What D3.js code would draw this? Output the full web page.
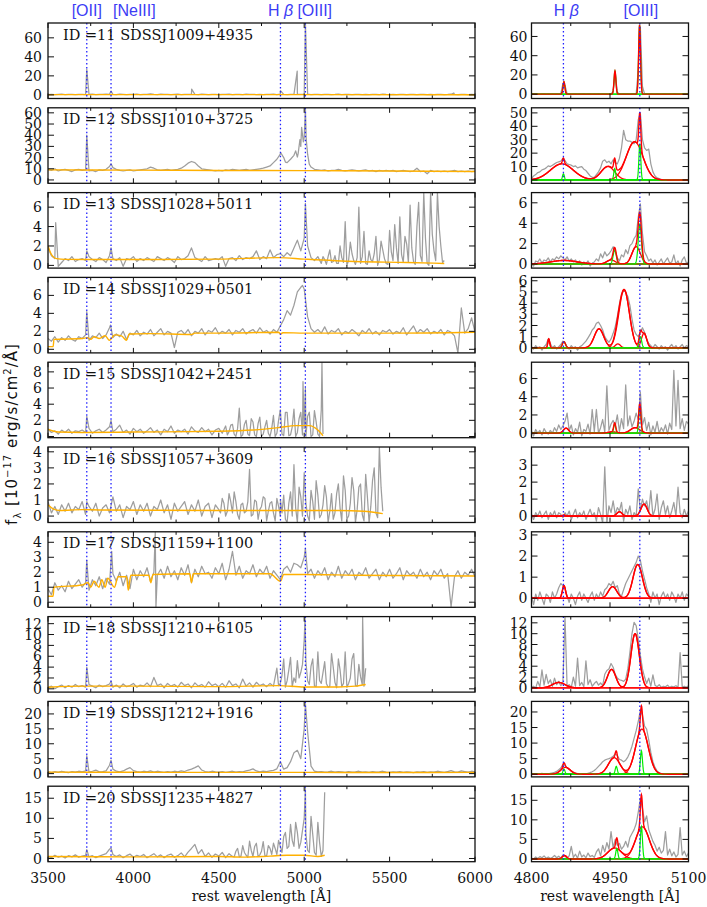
<!DOCTYPE html>
<html lang="en">
<head>
  <meta charset="UTF-8" />
  <title>Spectra ID 11-20</title>
  <style>
    body { margin: 0; background: #fff; }
    svg { display: block; }
    .tlab { font-family: "DejaVu Serif", serif; font-size: 14px; fill: #111; }
    .idlab { font-family: "DejaVu Serif", serif; font-size: 14.5px; fill: #111; }
    .linelab { font-family: "Liberation Sans", Arial, sans-serif; font-size: 16px; fill: #3c3cf5; }
    .ylab { font-family: "DejaVu Sans", sans-serif; font-size: 15px; fill: #111; letter-spacing: 1px; }
  </style>
</head>
<body>
  <svg width="707" height="907"></svg>
  <script src="https://cdnjs.cloudflare.com/ajax/libs/d3/7.8.5/d3.min.js"></script>
  <script>
    // objects, one per row
    const ids = [11, 12, 13, 14, 15, 16, 17, 18, 19, 20];
    const names = ["SDSSJ1009+4935", "SDSSJ1010+3725", "SDSSJ1028+5011", "SDSSJ1029+0501", "SDSSJ1042+2451",
                   "SDSSJ1057+3609", "SDSSJ1159+1100", "SDSSJ1210+6105", "SDSSJ1212+1916", "SDSSJ1235+4827"];

    // y ranges and tick values, full spectrum (left) and zoom (right)
    const leftDomains = [[-3.8, 75.6], [-3, 64.5], [-0.28, 7.5], [-0.4, 8.0], [-0.15, 9.2],
                         [-0.4, 4.3], [-0.34, 4.7], [-0.6, 13.3], [-1.1, 24.2], [-0.8, 18]];
    const leftTicks = [[0, 20, 40, 60], [0, 10, 20, 30, 40, 50, 60], [0, 2, 4, 6], [0, 2, 4, 6], [0, 2, 4, 6, 8],
                       [0, 1, 2, 3, 4], [0, 1, 2, 3, 4], [0, 2, 4, 6, 8, 10, 12], [0, 5, 10, 15, 20], [0, 5, 10, 15]];
    const rightDomains = [[-4.5, 74], [-2.5, 53.8], [-0.4, 7], [-0.45, 6.3], [-0.5, 7.8],
                          [-0.38, 4.07], [-0.43, 3.15], [-0.78, 13.15], [-0.87, 23.4], [-0.7, 18.6]];
    const rightTicks = [[0, 20, 40, 60], [0, 10, 20, 30, 40, 50], [0, 2, 4, 6], [0, 1, 2, 3, 4, 5, 6], [0, 2, 4, 6],
                        [0, 1, 2, 3], [0, 1, 2, 3], [0, 2, 4, 6, 8, 10, 12], [0, 5, 10, 15, 20], [0, 5, 10, 15]];

    const leftXTicks = [3500, 4000, 4500, 5000, 5500, 6000];
    const leftXMinor = [3750, 4250, 4750, 5250, 5750];
    const rightXTicks = [4800, 4950, 5100];
    const rightXMinor = [4875, 5025];

    // emission line markers
    const lineWaves = [3727, 3869, 4861, 5007];
    const zoomLineWaves = [4861, 5007];

    // full spectra: flux every 20 A from 3500 A
    const gridStart = 3500, gridStep = 20;
    const spec11 = [
      .4,.6,.3,.5,.7,.4,.5,.6,.3,.5, .6,.4,.5,.7,.4,.6,.5,.8,.6,.5, .4,.7,.5,.3,.6,.5,.8,.4,.6,.5,
      1.2,.5,.4,.7,.5,.6,.3,.5,.7,.4, .6,.5,.9,.6,.4,.7,.5,.3,.6,.5, .4,.6,.5,.7,.3,.5,.6,.4,.7,.5,
      .6,.4,.5,.3,.6,.5,.7,.4,.8,.5, .4,.6,.5,.7,.6,.5,.8,.4,.6,.5, .3,.5,.6,.4,.5,.7,.3,.5,.6,.4,
      .5,.6,.4,.5,.3,.6,.5,.4,.7,.5, .4,.6,.3,.5,.5,.4,.6,.5,.3,.5, .6,.4,.5,.3,.5,.6,.4,.5,.7,.5,
      .4,.6,.5,.3,.5,.4];
    const spec12 = [
      9.5,8.5,10,8,9,9.5,8.5,7.5,9,9.5, 8.5,9,8,8.5,7.5,9,8.5,9.5,12,11, 9.5,8.5,8,8.5,9,8,8.5,9,9.5,10,
      11.5,10.5,9,8.5,9,9.5,8.5,9,9.5,10.5, 12.5,15,16.5,15.5,12.5,10,9.5,9,8.5,8, 8.5,8,9,8.5,9.5,9,8.5,9,9.5,8.5,
      9,9.5,10,10.5,11.5,12.5,15.5,18.5,23,20, 15.5,18.5,22,20.5,30,38,23,11.5,9.5,9, 8.5,9,8,8.5,8.5,9.5,8.5,8,8.5,9,
      8.5,8,8.5,9,8,8.5,7.5,8.5,8,8.5, 8,8.5,7.5,8,8.5,8,7.5,8,10.5,7.5, 8,5.5,8.5,7.5,8,7.5,8,7.5,8,8.5,
      7.5,8,7.5,8,7.5,8];
    const spec13 = [
      1.8,1.0,0.7,-0.1,0.3,0.7,0.5,0.9,0.4,0.6, 0.7,0.5,0.9,0.6,0.4,0.8,0.6,0.3,1.0,0.7, 0.5,0.8,-0.1,0.7,0.6,0.9,0.4,0.7,0.5,0.8,
      0.6,0.4,0.9,0.7,0.5,0.8,0.6,0.3,0.9,0.6, 0.7,1.0,1.8,0.8,0.6,0.4,0.9,0.5,0.6,0.7, 0.6,0.9,-0.1,0.7,0.8,0.5,1.0,0.6,0.8,0.7,
      0.9,1.5,0.6,0.9,0.7,1.6,0.8,1.1,1.2,0.9, 1.3,1.0,1.8,2.6,1.5,2.8,2.0,0.8,0.5,0.9, 0.2,0.6,0.9,0.3,1.0,0.2,0.8,4.5,0.5,1.2,
      0.1,6.0,0.9,0.2,1.5,0.4,3.0,0.6,1.6,0.2, 3.6,0.5,1.8,5.0,0.3,2.2,6.2,0.4,4.0,1.0, 7.5,0.2,7.5,1.5,7.5,2.0,0.5];
    const spec14 = [
      1.2,0.9,1.4,0.8,1.3,1.0,1.5,1.1,0.9,1.4, 1.2,1.6,1.0,1.5,1.3,1.8,1.2,1.6,2.4,1.3, 1.7,1.4,2.0,1.1,1.8,1.6,2.1,1.5,1.9,1.7,
      2.2,1.5,1.9,2.3,1.6,2.0,1.8,0.2,1.9,2.1, 1.7,2.2,1.5,2.0,1.8,2.3,1.6,2.1,1.9,2.4, 1.7,2.0,1.8,2.2,1.6,2.1,1.9,2.3,1.7,2.0,
      2.2,1.8,2.4,1.9,2.1,1.7,2.2,1.9,2.6,3.3, 4.3,3.8,4.9,6.4,6.9,6.7,3.6,2.3,1.9,2.2, 1.8,2.5,1.7,2.1,1.9,2.3,1.6,2.0,1.8,2.2,
      1.9,1.5,2.1,1.8,2.3,1.7,2.0,1.6,2.1,1.9, 2.2,1.7,2.0,1.8,2.4,1.6,2.1,2.6,1.8,2.2, 1.9,2.3,1.7,2.0,1.8,2.2,1.6,2.1,1.9,1.5,
      -0.4,4.6,1.8,2.3,3.5,1.9];
    const spec15 = [
      0.9,0.5,0.7,0.3,0.8,0.5,0.9,0.4,0.7,0.6, 0.8,0.5,1.0,0.4,0.7,0.9,0.5,0.8,1.2,0.6, 0.9,1.4,0.5,0.8,0.3,1.0,0.6,0.9,0.4,0.7,
      1.1,0.5,0.8,0.2,0.9,0.6,1.3,0.4,0.8,0.6, 0.9,0.3,1.2,0.7,0.5,1.1,0.6,0.9,0.2,0.8, 1.0,0.4,1.3,0.6,1.5,0.0,3.5,0.2,2.0,0.1,
      1.8,0.0,2.4,0.3,2.0,0.0,2.6,0.4,3.3,0.1, 3.0,0.2,3.4,0.5,3.0,1.0,2.5,0.0,3.2,0.3, 3.3];
    const spec16 = [
      0.9,0.2,0.6,0.1,0.7,0.3,0.8,0.2,0.6,0.4, 0.9,0.1,0.6,0.3,0.8,0.0,0.5,0.7,0.2,1.2, 0.3,0.7,-0.1,0.6,0.4,0.9,0.1,0.7,0.3,0.8,
      0.0,0.6,0.4,1.0,0.2,0.7,-0.2,0.8,0.3,0.6, 0.9,0.1,0.7,0.3,1.0,0.0,0.6,0.8,-0.1,0.7, 0.4,1.1,0.0,1.4,0.2,0.9,-0.2,0.8,0.3,2.9,
      0.1,0.9,0.4,1.2,-0.3,0.8,0.2,1.1,0.0,1.3, -0.4,1.5,3.2,-0.4,1.2,2.7,0.0,1.6,-0.2,1.3, 0.1,1.9,-0.4,1.4,0.2,2.0,-0.3,1.6,0.0,2.4,
      -0.4,1.8,0.1,2.6,-0.4,2.2,0.2,4.3,0.3];
    const spec17 = [
      0.9,0.5,1.3,0.8,1.1,0.7,1.4,0.9,1.2,1.5, 1.0,1.3,0.8,1.5,1.1,1.7,0.9,1.6,1.2,1.9, 1.4,2.0,1.1,1.8,0.9,2.2,1.5,2.1,1.7,2.3,
      1.4,2.0,1.8,2.2,1.6,2.4,1.7,2.1,1.5,2.3, 1.8,2.5,1.3,2.2,1.7,2.4,1.9,2.0,1.6,2.3, 1.9,2.6,1.5,2.2,3.4,1.8,2.4,1.6,2.1,1.9,
      2.5,1.7,2.2,1.9,2.4,1.6,2.1,1.8,1.5,2.2, 2.4,2.0,2.6,2.5,2.3,3.0,1.9,2.2,1.6,2.1, 1.8,2.3,1.5,2.0,1.7,2.4,1.6,2.1,1.8,2.2,
      1.5,2.0,1.8,2.3,1.6,1.9,2.2,1.5,2.0,1.7, 2.2,1.6,1.9,2.3,1.5,2.1,1.8,2.0,1.6,2.2, 1.7,2.0,1.5,2.1,1.8,2.2,1.6,1.9,-0.3,1.7,
      2.1,1.6,2.0,1.8,2.2,1.7];
    const spec18 = [
      0.2,0.5,0.0,0.4,0.7,0.2,0.6,0.3,0.8,0.4, 0.6,0.3,0.8,0.5,0.2,0.7,0.4,0.6,0.9,0.3, 0.7,0.2,0.9,0.4,0.6,1.0,0.3,0.7,0.5,1.1,
      0.4,2.1,0.6,0.9,0.2,1.0,0.5,0.8,0.3,1.2, 0.6,0.9,0.2,1.1,0.5,0.8,0.3,1.3,0.6,0.9, 0.4,1.0,0.3,1.5,0.6,0.9,0.2,1.8,0.5,1.1,
      0.3,1.2,0.6,0.9,0.4,1.0,0.5,3.8,1.0,5.5, 1.5,5.8,2.0,5.2,3.0,9.0,1.5,4.2,0.5,6.8, 1.0,5.0,0.3,6.5,1.2,5.5,0.4,6.8,1.0,5.5,
      0.6,4.5,0.8];
    const spec19 = [
      0.6,0.3,0.7,0.4,0.8,0.5,0.3,0.7,0.5,0.8, 0.6,0.9,0.5,0.8,1.2,0.6,0.7,0.9,2.8,1.5, 0.8,0.6,0.9,1.5,2.0,1.0,0.7,0.5,0.8,0.6,
      0.9,0.5,0.8,0.6,0.4,0.7,0.5,0.8,0.6,0.9, 0.7,1.2,1.5,2.0,2.6,1.2,0.7,0.5,0.8,0.6, 0.5,0.7,0.4,0.6,0.8,0.5,0.7,0.6,0.9,1.2,
      1.6,0.9,0.6,0.8,0.7,0.9,1.1,1.6,4.0,1.5, 2.0,4.0,7.0,7.8,5.0,15.0,14.0,2.5,0.8,0.6, 0.7,0.5,0.6,0.8,0.5,0.7,0.6,0.4,0.7,0.5,
      0.6,0.8,0.5,0.6,0.4,0.7,0.5,0.6,0.8,0.5, 0.4,0.6,0.5,0.7,0.4,0.6,0.5,0.3,0.6,0.5, 0.7,0.4,0.6,0.5,0.8,0.6,0.4,0.7,1.0,0.6,
      0.5,0.9,0.7,0.5,0.8,0.6];
    const spec20 = [
      0.5,0.2,0.8,0.3,0.6,0.1,0.7,0.4,0.9,0.3, 0.6,0.8,0.4,0.7,0.2,0.6,0.9,1.2,2.3,1.0, 0.5,0.9,0.2,0.7,1.1,0.3,0.8,0.5,1.0,0.2,
      0.7,1.2,0.4,0.9,0.2,0.8,1.1,0.3,0.7,1.4, 0.4,1.6,2.5,3.5,1.2,2.2,0.5,1.4,0.3,1.1, 0.6,1.5,0.2,1.2,0.5,1.8,0.4,3.2,0.8,4.3,
      0.5,3.8,0.9,4.2,0.6,2.5,3.8,1.0,3.0,5.5, 2.5,8.5,3.0,6.5,4.0,10.0,2.0,10.5,1.5,9.0, 0.5,16.5];

    // extra samples halfway between grid points in the noisy red ends: [first wavelength, fluxes every 20 A]
    const mid13 = [5110, [0.9,0.1,1.6,0.4,0.2,2.0,0.3,0.0,2.4,0.5, 0.8,0.2,3.5,0.1,0.6,1.2,0.0,2.5,0.7,0.1,
                          1.4,4.2,0.2,1.1,3.0,0.3,1.8,0.1,6.5,0.4, 2.8,0.0,3.2,0.5,4.0,0.3]];
    const mid15 = [4550, [0.2,1.4,0.3,1.0,0.0,1.5,0.3,2.2,0.2,1.6, 0.0,1.2,0.4,1.0,0.0,2.0,0.3,3.0,0.1,1.2,
                          0.0,2.2,0.2,0.0,3.0,0.2,1.8,0.0]];
    const mid16 = [4510, [0.2,0.8,0.3,0.9,1.5,0.1,0.7,0.2,0.9,0.0, 1.0,-0.2,0.6,1.1,0.3,0.9,-0.3,0.6,0.2,-0.2,
                          0.8,0.0,0.5,1.8,0.0,0.8,-0.3,0.9,2.2,-0.1, 0.7,1.2,0.3,-0.2,1.4,0.5,2.5,-0.2,0.8,1.6,
                          0.4,2.0,-0.3,1.2,0.6,3.0,-0.1,1.8]];
    const mid18 = [4850, [0.6,2.5,0.3,3.5,0.4,1.2,2.0,4.5,5.0,0.8, 5.5,0.4,1.5,3.0,1.0,0.5,4.0,0.2,3.5,1.0,
                          0.3,2.0,6.5,0.5,2.2,0.5]];
    const mid20 = [4590, [0.4,2.5,0.6,1.5,0.3,2.0,3.0,0.5,1.8,0.7, 3.2,1.0,2.5,4.5,1.5,6.5,3.0,4.5,9.0,2.5,
                          7.0,6.0,1.5,6.0,0.8,4.0]];

    // narrow features between grid points [wavelength, flux]
    const lines11 = [[3727, 27], [3869, 4], [4341, 6], [4861, 4.5], [4959, 25], [5007, 76], [5876, 2]];
    const lines12 = [[3727, 40], [3869, 14.5], [4862, 24.5], [4890, 16], [4950, 26], [4965, 24], [4975, 36],
                     [4985, 47], [4995, 34], [5007, 64], [5012, 36], [5030, 14]];
    const lines13 = [[3545, 4.4], [3727, 1.5], [3869, 1.8], [4861, 1.2], [5007, 6.4]];
    const lines14 = [[3727, 4.2], [3866, 2.7], [4990, 7.1]];
    const lines15 = [[3727, 2.5], [3869, 2.0], [4993, 6.8], [5007, 6.0], [5104, 9.2], [5110, 0.3]];
    const lines16 = [[3727, 0.9], [4861, 1.0]];
    const lines17 = [[3727, 2.8], [3873, 3.4], [4128, 4.7], [4132, -0.34], [5007, 3.6]];
    const lines18 = [[3727, 4.0], [3869, 1.4], [5005, 13.3], [5342, 13.3], [5360, 3.8]];
    const lines19 = [[3727, 6.0], [3869, 4.5], [4970, 6.5], [5007, 23.5]];
    const lines20 = [[3727, 2.2], [3869, 2.6], [5007, 17.5], [5110, 2.0]];

    // continuum model [wavelength, flux]
    const cont11 = [[3500, 0.3], [4500, 0.3], [6000, 0.2]];
    const cont12 = [[3500, 9], [4000, 8.8], [4500, 8.5], [5000, 8.3], [5500, 8], [6000, 7.6]];
    const cont13 = [[3500, 2], [3515, 1.3], [3530, 0.9], [3550, 0.7], [3600, 0.62], [4000, 0.6], [4500, 0.65],
                    [4850, 0.8], [5000, 0.65], [5300, 0.4], [5600, 0.3], [5820, 0.2]];
    const cont14 = [[3500, 0.3], [3530, 0.3], [3535, 1.1], [3700, 1.2], [3730, 1.3], [3750, 1.1], [3770, 1.4],
                    [3800, 1.2], [3835, 1.5], [3860, 1.0], [3890, 1.6], [3930, 1.5], [3960, 1.0], [3975, 1.7],
                    [4100, 1.75], [4340, 1.65], [4360, 1.8], [4500, 1.8], [4850, 1.9], [4861, 1.7], [4875, 1.85],
                    [5000, 1.8], [5500, 1.8], [6000, 1.9]];
    const cont15 = [[3500, 0.9], [3560, 0.55], [3700, 0.5], [4000, 0.55], [4500, 0.65], [4700, 0.8], [4850, 1.1],
                    [4950, 1.35], [5030, 1.35], [5080, 0.8], [5110, 0.1]];
    const cont16 = [[3500, 0.7], [3530, 0.45], [3570, 0.35], [3700, 0.4], [3800, 0.38], [4500, 0.35], [5200, 0.35],
                    [5350, 0.3], [5460, 0.15]];
    const cont17 = [[3500, 0.4], [3530, 0.4], [3535, 1.0], [3700, 1.15], [3735, 1.3], [3750, 1.0], [3770, 1.4],
                    [3798, 1.0], [3815, 1.5], [3835, 1.0], [3850, 1.6], [3889, 1.0], [3910, 1.7], [3960, 1.7],
                    [3970, 0.8], [3985, 1.8], [4090, 1.8], [4102, 1.3], [4115, 1.85], [4330, 1.9], [4340, 1.3],
                    [4350, 1.9], [4800, 1.9], [4861, 1.4], [4880, 1.85], [5000, 1.85], [5300, 1.8], [6000, 1.75]];
    const cont18 = [[3500, 0.3], [3700, 0.5], [4000, 0.5], [4500, 0.4], [4850, 0.6], [5000, 0.35], [5200, 0.35],
                    [5300, 0.5], [5360, 0.8]];
    const cont19 = [[3500, 0.5], [4000, 0.45], [4500, 0.4], [5000, 0.4], [5500, 0.35], [6000, 0.4]];
    const cont20 = [[3500, 0.5], [3800, 0.45], [4000, 0.4], [4500, 0.5], [4650, 0.35], [4800, 0.6], [4900, 0.8],
                    [5000, 0.8], [5080, 0.5], [5120, 0.8]];

    // continuum-subtracted zoom: flux every 4 A from 4800 A
    const zoomStart = 4800, zoomStep = 4;
    const zoom11 = [
      0.3,-0.2,0.4,0.1,-0.3,0.2,0.5,-0.1,0.3,0, 0.2,-0.3,0.4,0.1,0.5,11,9,0.5,0.3,-0.2, 0.1,0.4,-0.2,0.3,0,0.5,-0.1,0.2,0.4,-0.3,
      0.2,0.1,0.5,-0.2,0.3,0.1,0.4,-0.1,0.2,3, 22,2,0.3,-0.2,0.4,0.1,0.3,-0.1,0.2,0.5, 0.5,25,70,8,0.5,0.2,-0.1,0.4,0.1,-0.2,
      0.3,0.1,-0.2,0.4,0.2,0,0.3,-0.1,0.5,0.2, 0.1,-0.2,0.3,0.1,0.4,0.2];
    const zoom12 = [
      1,3,4,5.5,6,7.5,8,9,10.5,10, 11,12,13,13.5,14,16,14.5,12,11.5,11, 10,10.5,9,9.5,10,8,7,5,3,2,
      2,4,6,9,14,15,13,14,12,15, 13,12,16,24,37,30,29,29,28,27, 30,45,50,30,24,22,23,12,6,3,
      1.5,1,0.5,0.2,0,-0.3,0.2,0,-0.2,0.3, 0.1,-0.1,0.2,0,0.3,0.1];
    const zoom13 = [
      0.1,-0.2,0.3,0.2,0.5,0.1,0.4,0.3,0.6,0.2, 0.5,0.4,0.7,0.5,0.8,0.6,0.4,0.7,0.3,0.5, 0.2,0.4,0.1,0.3,-0.1,0.2,0.0,0.3,-0.2,0.1,
      0.2,0.5,0.3,1.0,0.6,1.2,0.8,1.0,1.3,1.7, 1.3,0.6,0.3,0.9,0.7,1.4,1.0,1.8,2.0,2.5, 2.8,4.6,5.9,3.0,1.2,0.8,0.3,0.5,0.1,0.4,
      -0.1,0.2,0.5,0.0,0.3,0.6,0.1,0.2,0.9,0.0, 0.3,-0.2,0.4,0.7,0.1,0.2];
    const zoom14 = [
      0.1,-0.1,0.2,0.0,0.1,-0.2,0.1,0.3,0.8,0.4, 0.0,0.2,-0.1,0.1,0.3,0.6,0.4,0.1,-0.1,0.2, 0.0,0.1,-0.2,0.1,0.2,0.4,0.6,0.9,1.2,1.6,
      1.8,2.2,2.3,2.0,1.6,1.0,0.7,0.5,0.8,1.3, 1.9,2.8,3.9,4.8,5.1,5.0,4.6,3.8,2.6,1.6, 1.2,1.0,1.4,1.8,1.4,0.8,0.4,0.2,0.0,0.3,
      0.1,-0.1,0.2,0.0,0.1,-0.2,0.1,0.3,0.0,0.2, -0.1,0.1,0.3,0.0,0.2,0.1];
    const zoom15 = [
      0.2,-0.3,0.4,0.0,0.3,-0.2,0.5,0.1,-0.1,0.3, 0.0,0.6,0.2,0.9,0.4,0.8,1.3,2.2,0.3,0.9, -0.2,0.5,0.1,1.2,-0.3,0.4,0.2,1.0,-0.1,2.6,
      0.2,2.6,0.0,0.6,1.5,0.1,5.2,0.3,1.0,1.4, 0.8,2.0,0.2,1.6,0.5,5.3,0.8,1.9,0.7,1.3, 2.2,1.5,4.5,0.9,1.7,0.3,1.2,-0.2,0.8,0.1,
      1.3,0.0,0.6,0.2,0.9,-0.1,1.1,0.4,6.9,0.8, 5.8,0.5,1.6,0.3,1.3,1.0];
    const zoom16 = [
      0.1,-0.2,0.2,0.0,0.3,-0.1,0.1,0.3,-0.2,0.2, 0.0,0.3,-0.1,0.2,0.1,-0.1,0.2,0.0,0.3,-0.2, 0.1,0.4,-0.1,0.2,0.0,0.3,-0.2,0.1,0.4,0.0,
      0.2,-0.3,0.5,0.1,-0.4,2.9,-0.4,0.6,0.2,0.9, 0.1,0.5,0.3,0.8,-0.3,0.4,0.1,0.6,-0.2,0.2, 0.0,1.6,0.3,1.0,0.6,0.9,0.2,1.5,0.0,0.4,
      1.3,-0.2,0.5,0.9,0.1,0.6,-0.1,0.3,0.8,0.0, 1.7,0.2,-0.1,0.4,0.0,0.3];
    const zoom17 = [
      0.1,-0.3,0.2,-0.1,0.3,0.0,-0.3,0.2,0.1,-0.2, 0.3,0.0,0.2,0.5,0.7,0.6,0.5,0.1,-0.2,0.2, 0.0,-0.3,0.1,0.3,-0.1,0.2,0.0,-0.2,0.1,0.3,
      -0.1,0.2,0.0,0.3,0.1,0.4,0.5,0.7,0.6,0.8, 0.5,0.6,0.2,0.1,0.4,0.7,0.9,1.1,1.3,1.5, 1.7,2.0,1.8,1.3,0.9,0.5,0.2,-0.2,0.3,0.0,
      0.2,-0.3,0.1,0.3,0.0,0.2,-0.1,0.3,0.1,-0.2, 0.2,0.0,0.3,-0.1,0.2,0.1];
    const zoom18 = [
      0.1,0.3,0.0,1.2,0.2,3.3,0.5,2.5,0.8,1.5, 0.3,1.8,0.6,1.2,0.4,0.9,13.1,0.2,0.6,0.1, 2.0,0.3,5.5,0.4,1.0,0.2,5.0,0.6,1.5,0.3,
      0.8,1.2,0.5,0.9,0.4,2.5,3.2,3.5,4.5,3.8, 2.5,1.8,1.5,1.4,1.2,1.6,3.5,6.5,10.0,12.1, 11.5,9.0,6.0,3.5,2.0,0.8,1.8,0.3,2.4,0.5,
      0.2,0.6,0.1,0.3,0.2,0.5,0.1,0.3,0.2,0.4, 0.1,6.5,0.2,0.3,0.1,0.4];
    const zoom19 = [
      0.1,0.0,0.2,-0.1,0.1,0.3,0.0,0.2,0.1,0.3, 0.4,0.6,0.9,1.4,2.0,3.2,2.9,2.0,1.5,1.0, 0.7,0.4,0.2,0.1,0.0,0.2,0.1,0.3,0.5,0.8,
      1.2,1.8,2.5,3.2,4.0,4.5,4.8,5.0,5.3,5.8, 6.5,6.0,4.8,4.5,4.0,4.5,5.5,7.0,9.0,11.5, 14.0,17.0,20.5,19.0,15.5,14.5,11.0,7.0,4.0,2.2,
      1.0,0.5,0.2,0.1,0.0,0.1,-0.1,0.1,0.0,0.1, 0.0,0.1,-0.1,0.0,0.1,0.0];
    const zoom20 = [
      0.2,0.0,0.5,0.1,0.6,0.3,0.8,0.2,0.5,0.1, 0.4,0.9,0.3,0.7,0.2,1.0,0.6,0.3,0.8,3.2, 0.4,1.2,0.2,2.0,0.5,1.0,0.3,1.5,0.6,0.9,
      0.4,1.8,2.6,0.8,3.5,1.8,4.2,2.5,7.0,2.8, 5.0,3.5,4.0,2.5,3.2,4.5,3.0,5.5,6.5,7.5, 9.0,12.0,15.5,13.0,9.5,11.0,7.5,6.0,4.5,3.5,
      2.0,3.0,1.5,2.2,7.0,1.0,2.5,0.8,1.8,0.5, 1.2,8.0,1.0,2.0,0.6,1.5];

    // fitted gaussian components: [centre A, peak, sigma A, kind] (b = broad red, n = narrow green)
    const fit11 = [[4862, 13, 1.8, "n"], [4959.5, 24, 1.8, "n"], [5006.5, 72, 1.8, "n"]];
    const fit12 = [[4858, 12, 22, "b"], [4861, 4.5, 1.8, "n"], [4946, 10, 13, "b"], [4959, 8.5, 1.8, "n"],
                   [4997, 28.5, 16, "b"], [5007, 27, 1.8, "n"]];
    const fit13 = [[4862, 0.35, 25, "b"], [4952, 0.4, 8, "b"], [4959, 1.35, 3, "n"], [5000, 1.7, 8, "b"], [5007, 3.9, 3, "n"]];
    const fit14 = [[4833, 0.8, 1.8, "b"], [4862, 0.55, 3, "n"], [4929, 1.7, 9, "b"], [4965, 0.35, 5, "b"],
                   [4977, 5.2, 10, "b"], [5015, 1.3, 5, "b"], [5008, 1.0, 2.5, "n"]];
    const fit15 = [[4866, 0.55, 5, "b"], [4955, 0.15, 8, "b"], [4959, 1.0, 2, "n"], [4998, 0.6, 9, "b"], [5007, 2.9, 2, "n"]];
    const fit16 = [[4862, 0.05, 3, "b"], [4968, 0.25, 5, "b"], [5015, 0.7, 6, "b"]];
    const fit17 = [[4862, 0.6, 3, "b"], [4955, 0.55, 8, "b"], [5003, 1.6, 9, "b"]];
    const fit18 = [[4852, 1.0, 12, "b"], [4953, 3.4, 8, "b"], [4998, 10, 8, "b"]];
    const fit19 = [[4865, 2.2, 9, "b"], [4862, 1.6, 2, "n"], [4958, 5.3, 11, "b"], [4962, 2.5, 2, "n"],
                   [5011, 14.5, 12, "b"], [5010, 7.5, 2, "n"]];
    const fit20 = [[4863, 0.9, 4, "b"], [4959, 2.8, 13, "b"], [4963, 2.7, 2, "n"], [5012, 8.2, 13, "b"], [5010, 8.3, 2, "n"]];

    const spectra = [spec11, spec12, spec13, spec14, spec15, spec16, spec17, spec18, spec19, spec20];
    const mids = [null, null, mid13, null, mid15, mid16, null, mid18, null, mid20];
    const lineSets = [lines11, lines12, lines13, lines14, lines15, lines16, lines17, lines18, lines19, lines20];
    const conts = [cont11, cont12, cont13, cont14, cont15, cont16, cont17, cont18, cont19, cont20];
    const zooms = [zoom11, zoom12, zoom13, zoom14, zoom15, zoom16, zoom17, zoom18, zoom19, zoom20];
    const fits = [fit11, fit12, fit13, fit14, fit15, fit16, fit17, fit18, fit19, fit20];

    const svg = d3.select("svg");

    // layout
    const rowTop = i => 23 + i * 84.8;
    const panelH = 75.5;
    const xL = d3.scaleLinear().domain([3500, 6000]).range([48, 475]);
    const xR = d3.scaleLinear().domain([4800, 5100]).range([531.5, 688.5]);

    const gray = "#9e9e9e", orange = "#ffb000", red = "#ff0000", green = "#00ee00", blue = "#2020ff";
    const defs = svg.append("defs");

    function gauss(c, w) {
      const t = (w - c[0]) / c[2];
      return c[1] * Math.exp(-0.5 * t * t);
    }
    const fitGrid = d3.range(4800, 5100.01, 0.5);

    function drawFrame(g, x, y, xMajor, xMinor, yTicks, labelGap, showX) {
      const [x0, x1] = x.range();
      const [y1, y0] = y.range();
      const ticks = g.append("g").attr("stroke", "#111").attr("stroke-width", 1);
      // x ticks top and bottom
      xMajor.concat(xMinor).forEach(v => {
        const len = xMajor.includes(v) ? 5 : 3;
        ticks.append("line").attr("x1", x(v)).attr("x2", x(v)).attr("y1", y1).attr("y2", y1 - len);
        ticks.append("line").attr("x1", x(v)).attr("x2", x(v)).attr("y1", y0).attr("y2", y0 + len);
      });
      // y ticks left and right
      ticks.selectAll(".yt").data(yTicks).join("line")
        .attr("x1", x0).attr("x2", x0 + 6).attr("y1", d => y(d)).attr("y2", d => y(d));
      ticks.selectAll(".yt2").data(yTicks).join("line")
        .attr("x1", x1).attr("x2", x1 - 6).attr("y1", d => y(d)).attr("y2", d => y(d));

      g.append("rect")
        .attr("x", x0).attr("y", y0).attr("width", x1 - x0).attr("height", y1 - y0)
        .attr("fill", "none").attr("stroke", "#111").attr("stroke-width", 1.3);

      g.selectAll(".ylab").data(yTicks).join("text")
        .attr("class", "tlab")
        .attr("x", x0 - labelGap).attr("y", d => y(d))
        .attr("dy", "0.36em").attr("text-anchor", "end")
        .text(d => d);

      if (showX) {
        g.selectAll(".xlab").data(xMajor).join("text")
          .attr("class", "tlab")
          .attr("x", d => x(d)).attr("y", y1 + 21)
          .attr("text-anchor", "middle")
          .text(d => d);
        g.append("text").attr("class", "tlab")
          .attr("x", (x0 + x1) / 2).attr("y", y1 + 39)
          .attr("text-anchor", "middle")
          .text("rest wavelength [Å]");
      }
    }

    function markerLines(g, x, y, waves) {
      const [y1, y0] = y.range();
      g.selectAll(".mk").data(waves).join("line")
        .attr("x1", d => x(d)).attr("x2", d => x(d))
        .attr("y1", y0).attr("y2", y1)
        .attr("stroke", blue).attr("stroke-width", 1.3)
        .attr("stroke-dasharray", "1.5,2.5");
    }

    ids.forEach((id, i) => {
      const y0 = rowTop(i), y1 = y0 + panelH;
      const last = i === ids.length - 1;

      // ---- full spectrum panel
      const yL = d3.scaleLinear().domain(leftDomains[i]).range([y1, y0]);
      defs.append("clipPath").attr("id", "cl" + i).append("rect")
        .attr("x", 48).attr("y", y0).attr("width", 475 - 48).attr("height", panelH);
      const gl = svg.append("g");
      const pl = gl.append("g").attr("clip-path", `url(#cl${i})`);

      let pts = spectra[i].map((v, k) => [gridStart + k * gridStep, v]).concat(lineSets[i]);
      if (mids[i]) pts = pts.concat(mids[i][1].map((v, k) => [mids[i][0] + k * gridStep, v]));
      pts.sort((a, b) => a[0] - b[0]);
      const lineL = d3.line().x(d => xL(d[0])).y(d => yL(d[1]));

      pl.append("path").attr("d", lineL(pts))
        .attr("fill", "none").attr("stroke", gray).attr("stroke-width", 1.25).attr("stroke-linejoin", "round");
      pl.append("path").attr("d", lineL.curve(d3.curveMonotoneX)(conts[i]))
        .attr("fill", "none").attr("stroke", orange).attr("stroke-width", 1.4);
      markerLines(pl, xL, yL, lineWaves);

      drawFrame(gl, xL, yL, leftXTicks, leftXMinor, leftTicks[i], 6, last);

      gl.append("text").attr("class", "idlab")
        .attr("x", 63).attr("y", y0 + 16.5)
        .text(`ID =${id} ${names[i]}`);

      // ---- zoom panel around Hb / [OIII]
      const yR = d3.scaleLinear().domain(rightDomains[i]).range([y1, y0]);
      defs.append("clipPath").attr("id", "cr" + i).append("rect")
        .attr("x", 531.5).attr("y", y0).attr("width", 688.5 - 531.5).attr("height", panelH);
      const gr = svg.append("g");
      const pr = gr.append("g").attr("clip-path", `url(#cr${i})`);
      const lineR = d3.line().x(d => xR(d[0])).y(d => yR(d[1]));

      const zpts = zooms[i].map((v, k) => [zoomStart + k * zoomStep, v]);
      pr.append("path").attr("d", lineR(zpts))
        .attr("fill", "none").attr("stroke", gray).attr("stroke-width", 1.25).attr("stroke-linejoin", "round");

      const comps = fits[i];
      comps.filter(c => c[3] === "b").forEach(c => {
        pr.append("path").attr("d", lineR(fitGrid.map(w => [w, gauss(c, w)])))
          .attr("fill", "none").attr("stroke", red).attr("stroke-width", 1.3);
      });
      comps.filter(c => c[3] === "n").forEach(c => {
        pr.append("path").attr("d", lineR(fitGrid.map(w => [w, gauss(c, w)])))
          .attr("fill", "none").attr("stroke", green).attr("stroke-width", 1.2);
      });
      const total = fitGrid.map(w => [w, d3.sum(comps, c => gauss(c, w))]);
      pr.append("path").attr("d", lineR(total))
        .attr("fill", "none").attr("stroke", red).attr("stroke-width", 1.4);
      markerLines(pr, xR, yR, zoomLineWaves);

      drawFrame(gr, xR, yR, rightXTicks, rightXMinor, rightTicks[i], 4, last);
    });

    // line names over the top row
    const topLabels = [
      {x: xL(3727), anchor: "middle", parts: ["[OII]"]},
      {x: xL(3869) + 2, anchor: "start", parts: ["[NeIII]"]},
      {x: xL(4861), anchor: "middle", parts: ["H ", "β"]},
      {x: xL(5007) - 8, anchor: "start", parts: ["[OIII]"]},
      {x: xR(4861) + 3, anchor: "middle", parts: ["H ", "β"]},
      {x: xR(5007) + 1, anchor: "middle", parts: ["[OIII]"]}
    ];
    topLabels.forEach(l => {
      const t = svg.append("text").attr("class", "linelab")
        .attr("x", l.x).attr("y", 16).attr("text-anchor", l.anchor);
      l.parts.forEach((p, k) => {
        t.append("tspan").text(p).style("font-style", k === 1 ? "italic" : "normal");
      });
    });

    // y axis title
    const yt = svg.append("text").attr("class", "ylab")
      .attr("transform", "translate(17,434) rotate(-90)")
      .attr("text-anchor", "middle");
    yt.append("tspan").text("f");
    yt.append("tspan").attr("dy", 4).style("font-size", "10px").text("λ");
    yt.append("tspan").attr("dy", -4).text(" [10");
    yt.append("tspan").attr("dy", -6).style("font-size", "10px").text("−17");
    yt.append("tspan").attr("dy", 6).text(" erg/s/cm");
    yt.append("tspan").attr("dy", -6).style("font-size", "10px").text("2");
    yt.append("tspan").attr("dy", 6).text("/Å]");
  </script>
</body>
</html>
